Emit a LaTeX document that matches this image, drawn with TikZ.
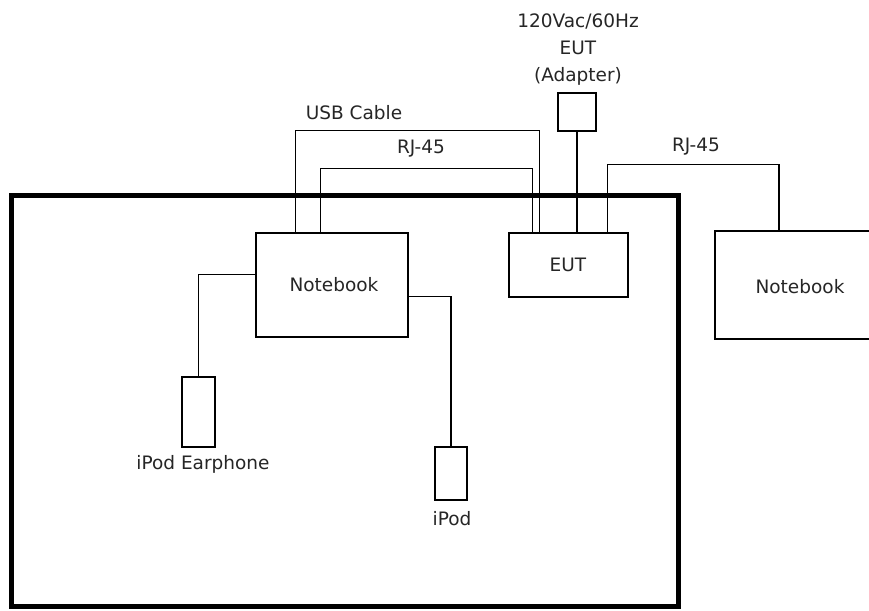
\documentclass[tikz,border=0pt]{standalone}
\usepackage{fontspec}
\setmainfont{DejaVu Sans}
\usetikzlibrary{calc}
\begin{document}
\begin{tikzpicture}[x=1pt,y=-1pt,
  box/.style={draw,line width=1.5pt,inner sep=0pt,anchor=center},
  wire/.style={draw,line width=1.5pt},
  lbl/.style={font=\fontsize{18.5}{22}\selectfont,text=black!85,inner sep=0pt,anchor=center}]
\clip (0,0) rectangle (869,610);
\fill[white] (0,0) rectangle (869,610);
% frame
\draw[line width=5pt] (11,195.5) rectangle (678.5,606.5);
% boxes
\node[box,minimum width=152pt,minimum height=104pt] (nbL) at (332,285) {};
\node[box,minimum width=119pt,minimum height=64pt] (eut) at (568.5,265) {};
\node[box,minimum width=38pt,minimum height=38pt] (adp) at (577,112) {};
\node[box,minimum width=170pt,minimum height=108pt] (nbR) at (800,285) {};
\node[box,minimum width=33pt,minimum height=70pt] (ear) at (198.5,412) {};
\node[box,minimum width=32pt,minimum height=53pt] (ipod) at (451,473.5) {};
% labels
\node[lbl] (tNbL) at (334,285) {Notebook};
\node[lbl] (tEut) at (568,265) {EUT};
\node[lbl] (tNbR) at (800,287) {Notebook};
\node[lbl] (tEar) at (203,464) {iPod Earphone};
\node[lbl] (tIpod) at (452,519) {iPod};
\node[lbl] (tUsb) at (354,113) {USB Cable};
\node[lbl] (tRj1) at (421,149) {RJ-45};
\node[lbl] (tRj2) at (696,147) {RJ-45};
\node[lbl] (tA1) at (578,21) {120Vac/60Hz};
\node[lbl] (tA2) at (578,48) {EUT};
\node[lbl] (tA3) at (578,76) {(Adapter)};
% wires
\draw[wire] ($(nbL.north west)+(40,0)$) |- ($(eut.north west)+(31,-102)$) -- ($(eut.north west)+(31,0)$);
\draw[wire] ($(nbL.north west)+(65,0)$) |- ($(eut.north west)+(24,-64)$) -- ($(eut.north west)+(24,0)$);
\draw[wire] (adp.south) -- (adp.south |- eut.north);
\draw[wire] ($(eut.north west)+(99,0)$) |- ($(nbR.north)+(-21,-66)$) -- ($(nbR.north)+(-21,0)$);
\draw[wire] ($(nbL.north west)+(0,42)$) -| (ear.north);
\draw[wire] ($(nbL.north east)+(0,64)$) -| (ipod.north);
\end{tikzpicture}
\end{document}
